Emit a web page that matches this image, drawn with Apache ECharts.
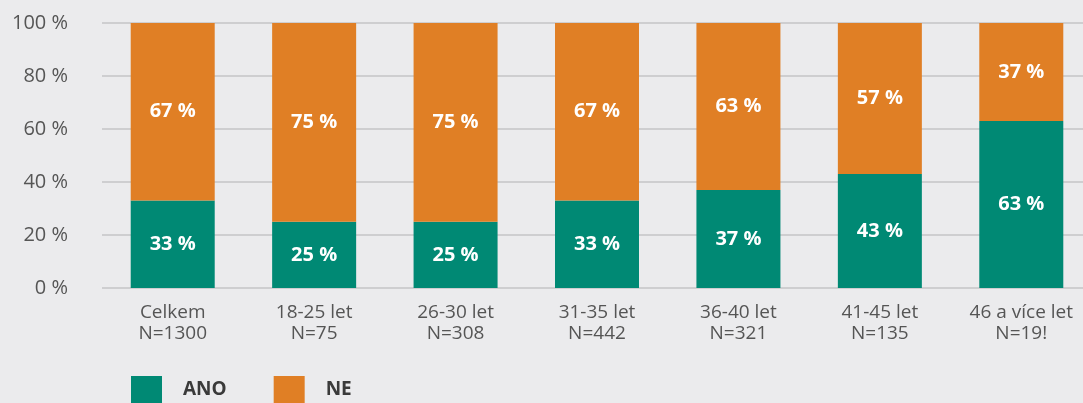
<!DOCTYPE html>
<html lang="cs">
<head>
    <meta charset="UTF-8">
    <script src="https://cdn.jsdelivr.net/npm/echarts@6/dist/echarts.min.js"></script>
    <style>
        html, body { margin: 0; padding: 0; background-color: #ebebed; overflow: hidden; }
    </style>
</head>
<body>
    <!-- graf je o kousek širší než okno, poslední sloupec přesahuje -->
    <div id="main" style="width: 1092px;height:403px;"></div>
    <script type="text/javascript">
        // kategorie a hodnoty
        const categories = ['Celkem\nN=1300', '18-25 let\nN=75', '26-30 let\nN=308', '31-35 let\nN=442',
            '36-40 let\nN=321', '41-45 let\nN=135', '46 a více let\nN=19!'];
        const ano = [33, 25, 25, 33, 37, 43, 63];
        const ne = [67, 75, 75, 67, 63, 57, 37];
        const yTicks = [0, 20, 40, 60, 80, 100];

        var myChart = echarts.init(document.getElementById('main'));
        var labelStyle = {
            show: true,
            position: 'inside',
            color: '#ffffff',
            fontSize: 20,
            fontWeight: 'bold',
            fontFamily: 'Open Sans',
            formatter: '{c} %'
        };
        myChart.setOption({
            backgroundColor: '#ebebed',
            animation: false,
            textStyle: { fontFamily: 'Open Sans' },
            grid: { left: 102, right: 0, top: 23, bottom: 115 },
            legend: {
                left: 131,
                top: 376,
                padding: 0,
                itemWidth: 31,
                itemHeight: 28,
                itemGap: 47,
                icon: 'rect',
                textStyle: { color: '#3a3a3a', fontSize: 19, fontWeight: 'bold', padding: [0, 0, 0, 16] },
                data: ['ANO', 'NE']
            },
            xAxis: {
                type: 'category',
                data: categories,
                axisLine: { show: false },
                axisTick: { show: false },
                axisLabel: { color: '#555555', fontSize: 19, lineHeight: 21, margin: 14 }
            },
            yAxis: {
                type: 'value',
                min: yTicks[0],
                max: yTicks[yTicks.length - 1],
                interval: 20,
                axisLabel: { color: '#555555', fontSize: 20, formatter: '{value} %', margin: 34 },
                splitLine: { lineStyle: { color: '#c4c4c6', width: 1.5 } }
            },
            series: [{
                name: 'ANO',
                type: 'bar',
                stack: 'a',
                barWidth: 84,
                itemStyle: { color: '#008974' },
                label: labelStyle,
                data: ano
            }, {
                name: 'NE',
                type: 'bar',
                stack: 'a',
                barWidth: 84,
                itemStyle: { color: '#e07f25' },
                label: labelStyle,
                data: ne
            }]
        });
    </script>
</body>
</html>
